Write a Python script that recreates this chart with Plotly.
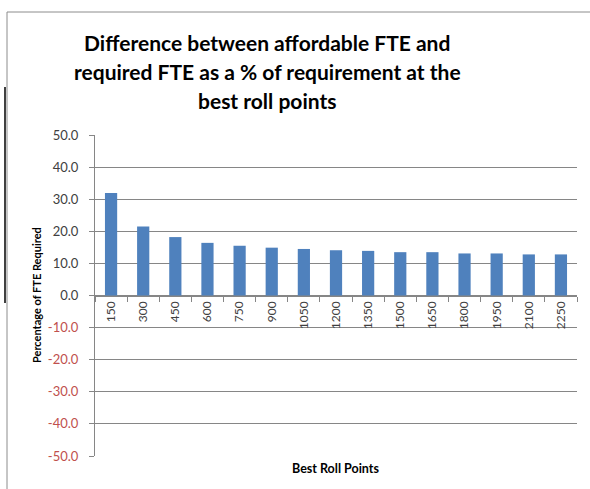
import plotly.graph_objects as go

roll_points = ["150", "300", "450", "600", "750", "900", "1050", "1200", "1350",
               "1500", "1650", "1800", "1950", "2100", "2250"]
pct_values = [31.9, 21.5, 18.2, 16.4, 15.5, 14.9, 14.5, 14.1, 13.9,
              13.5, 13.5, 13.1, 13.1, 12.8, 12.8]
y_ticks = [-50, -40, -30, -20, -10, 0, 10, 20, 30, 40, 50]
title_lines = ["Difference between affordable FTE and",
               "required FTE as a % of requirement at the",
               "best roll points"]

W, H = 590, 489
L, R, T, B = 95, 13, 135, 33
pw, ph = W - L - R, H - T - B

def px_x(x):
    return (x - L) / pw

def px_y(y):
    return (H - B - y) / ph

tick_text = []
for v in y_ticks:
    col = "#c0504d" if v < 0 else "#404040"
    tick_text.append(f"<span style='color:{col}'>{v:.1f}</span>")

fig = go.Figure()
fig.add_trace(go.Bar(x=roll_points, y=pct_values, marker_color="#4f81bd",
                     marker_line_width=0))

font = "Lato, 'Open Sans', sans-serif"
annotations = []
for i, line in enumerate(title_lines):
    annotations.append(dict(
        text=f"<b>{line}</b>", xref="paper", yref="paper",
        x=px_x(267), y=px_y(42 + 29 * i), xanchor="center", yanchor="middle",
        showarrow=False, font=dict(family=font, size=21, color="#000000")))
annotations += [
    dict(text="<b>Percentage of FTE Required</b>", textangle=-90,
         xref="paper", yref="paper", x=px_x(36), y=px_y(295),
         xanchor="center", yanchor="middle",
         showarrow=False, font=dict(size=11, color="#000000", family=font)),
    dict(text="<b>Best Roll Points</b>",
         xref="paper", yref="paper", x=px_x(335), y=px_y(468),
         xanchor="center", yanchor="middle",
         showarrow=False, font=dict(size=12.5, color="#000000", family=font)),
]

fig.update_layout(
    width=W, height=H,
    margin=dict(l=L, r=R, t=T, b=B),
    paper_bgcolor="white", plot_bgcolor="white",
    bargap=0.62,
    showlegend=False,
    font=dict(family=font, color="#404040", size=12),
    xaxis=dict(
        type="category",
        anchor="free", position=0.5,
        showline=True, linecolor="#868686", linewidth=1,
        ticks="outside", tickson="boundaries", ticklen=5, tickcolor="#868686",
        tickangle=-90, tickfont=dict(size=12, color="#404040"),
        showgrid=False,
    ),
    yaxis=dict(
        range=[-50, 50], tickvals=y_ticks, ticktext=tick_text,
        showline=True, linecolor="#868686", linewidth=1,
        ticks="outside", ticklen=5, tickcolor="#868686",
        ticklabelstandoff=8,
        showgrid=True, gridcolor="#868686", gridwidth=1,
        zeroline=False, tickfont=dict(size=13),
    ),
    annotations=annotations,
    shapes=[
        dict(type="rect", xref="paper", yref="paper",
             x0=px_x(7), x1=px_x(W + 5), y0=px_y(H + 5), y1=px_y(12),
             line=dict(color="#8c8c8c", width=1), layer="below"),
        dict(type="line", xref="paper", yref="paper",
             x0=px_x(5), x1=px_x(5), y0=px_y(87), y1=px_y(303),
             line=dict(color="#000000", width=1.5)),
    ],
)

fig.write_html("out.html")
